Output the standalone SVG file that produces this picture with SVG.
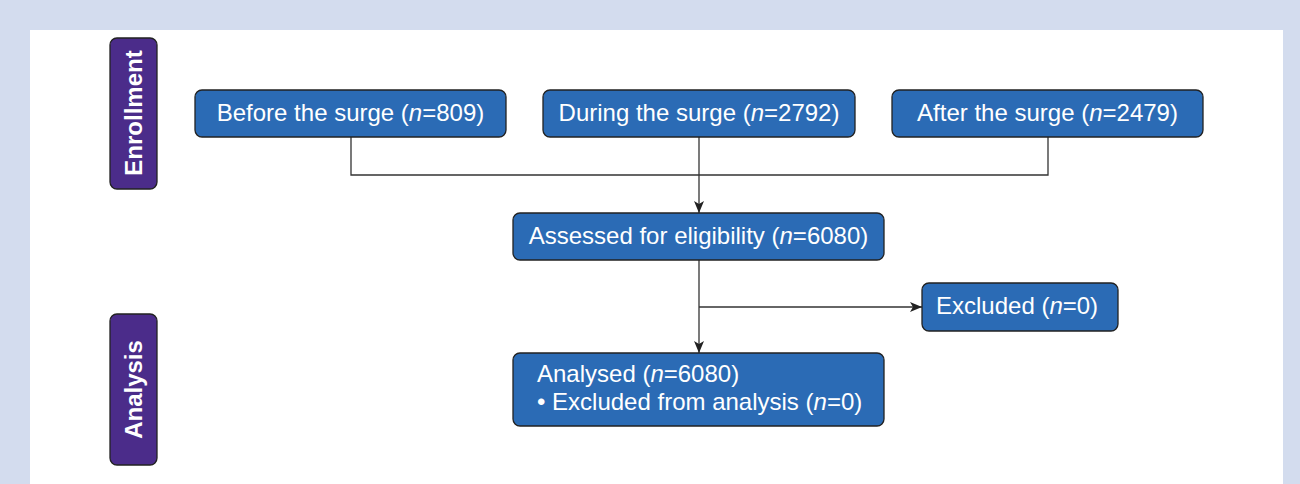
<svg xmlns="http://www.w3.org/2000/svg" width="1300" height="484" viewBox="0 0 1300 484">
<defs>
<style>
.bg{fill:#D3DCEE}
.box{fill:#2B6BB5;stroke:#222;stroke-width:1.3}
.stage{fill:#4B2C8A;stroke:#222;stroke-width:1.3}
.t{font-family:"Liberation Sans",Arial,sans-serif;font-size:24px;fill:#fff}
.st{font-family:"Liberation Sans",Arial,sans-serif;font-size:24px;font-weight:bold;fill:#fff}
.c{fill:none;stroke:#333;stroke-width:1.3}
</style>
<marker id="ah" viewBox="0 0 12 10" refX="12" refY="5" markerWidth="12" markerHeight="10" markerUnits="userSpaceOnUse" orient="auto">
<path d="M0,0 L12,5 L0,10 L3,5 Z" fill="#222"/>
</marker>
</defs>
<rect class="bg" x="0" y="0" width="1300" height="484"/>
<rect x="30" y="30" width="1253" height="454" fill="#fff"/>
<g id="enrollment">
<rect class="stage" x="110" y="38" width="47" height="151" rx="7"/>
<text class="st" transform="translate(141.5,113) rotate(-90)" text-anchor="middle">Enrollment</text>
</g>
<g id="analysis">
<rect class="stage" x="110" y="314" width="47" height="151" rx="7"/>
<text class="st" transform="translate(141.5,389.5) rotate(-90)" text-anchor="middle">Analysis</text>
</g>
<g id="connectors">
<path class="c" d="M351,137 V175 H1048 V137"/>
<path class="c" d="M699,137 V213" marker-end="url(#ah)"/>
<path class="c" d="M699,260 V353" marker-end="url(#ah)"/>
<path class="c" d="M699,307 H922" marker-end="url(#ah)"/>
</g>
<g id="before">
<rect class="box" x="195" y="90" width="311" height="47" rx="7"/>
<text class="t" x="350.5" y="120.5" text-anchor="middle">Before the surge (<tspan font-style="italic">n</tspan>=809)</text>
</g>
<g id="during">
<rect class="box" x="543" y="90" width="312" height="47" rx="7"/>
<text class="t" x="699" y="120.5" text-anchor="middle">During the surge (<tspan font-style="italic">n</tspan>=2792)</text>
</g>
<g id="after">
<rect class="box" x="892" y="90" width="311" height="47" rx="7"/>
<text class="t" x="1047.5" y="120.5" text-anchor="middle">After the surge (<tspan font-style="italic">n</tspan>=2479)</text>
</g>
<g id="assessed">
<rect class="box" x="513" y="213" width="371" height="47" rx="7"/>
<text class="t" x="698.5" y="243.5" text-anchor="middle">Assessed for eligibility (<tspan font-style="italic">n</tspan>=6080)</text>
</g>
<g id="excluded">
<rect class="box" x="922" y="283" width="196" height="48" rx="7"/>
<text class="t" x="936" y="314">Excluded (<tspan font-style="italic">n</tspan>=0)</text>
</g>
<g id="analysed">
<rect class="box" x="513" y="353" width="371" height="73" rx="7"/>
<text class="t" x="537" y="382">Analysed (<tspan font-style="italic">n</tspan>=6080)</text>
<text class="t" x="537" y="409.5">• Excluded from analysis (<tspan font-style="italic">n</tspan>=0)</text>
</g>
</svg>
